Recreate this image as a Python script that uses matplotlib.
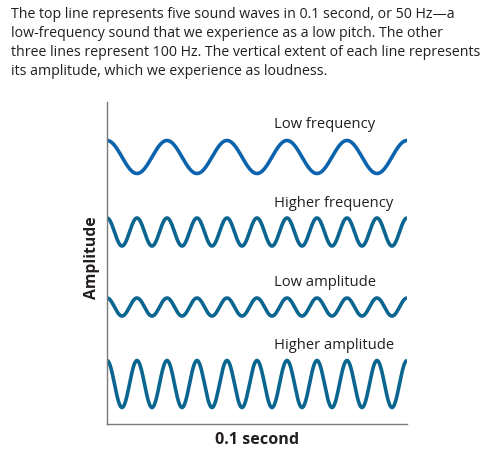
import numpy as np
import matplotlib.pyplot as plt

plt.rcParams['font.family'] = ['Open Sans', 'DejaVu Sans']

# wave parameters (Hz, amplitude and baseline in axis units)
labels = ["Low frequency", "Higher frequency", "Low amplitude", "Higher amplitude"]
freqs = [50, 100, 100, 100]
amps = [16.5, 14, 9, 23.5]
centers = [267, 192, 117, 40]
label_y = [300, 221, 142, 79]
colors = ["#0b63ad", "#0a6690", "#0a6690", "#0a6690"]

duration = 0.1
caption = ("The top line represents five sound waves in 0.1 second, or 50 Hz\u2014a\n"
           "low-frequency sound that we experience as a low pitch. The other\n"
           "three lines represent 100 Hz. The vertical extent of each line represents\n"
           "its amplitude, which we experience as loudness.")

fig = plt.figure(figsize=(4.86, 4.56), dpi=100)
fig.text(11 / 486, 1 - 7 / 456, caption, ha='left', va='top', fontsize=10.15,
         color='#231f20', linespacing=1.36)

ax = fig.add_axes([107 / 486, 1 - 425 / 456, 300 / 486, 322 / 456])
t = np.linspace(0, duration, 1500)
for lab, f, a, c, ly, col in zip(labels, freqs, amps, centers, label_y, colors):
    ax.plot(t, c + a * np.cos(2 * np.pi * f * t), color=col, lw=2.6,
            solid_capstyle='butt')
    ax.text(0.0557, ly, lab, ha='left', va='center', fontsize=10.6, color='#231f20')

ax.set_xlim(0, duration)
ax.set_ylim(0, 322)
ax.set_xticks([])
ax.set_yticks([])
for s in ['top', 'right']:
    ax.spines[s].set_visible(False)
for s in ['left', 'bottom']:
    ax.spines[s].set_color('#7a7a7a')
    ax.spines[s].set_linewidth(1.0)

ax.set_xlabel("0.1 second", fontsize=11.6, fontweight='bold', color='#231f20', labelpad=5)
ax.set_ylabel("Amplitude", fontsize=11.3, fontweight='bold', color='#231f20')
ax.yaxis.set_label_coords(-0.025, 0.52)

fig.savefig("out.png", dpi=100)
